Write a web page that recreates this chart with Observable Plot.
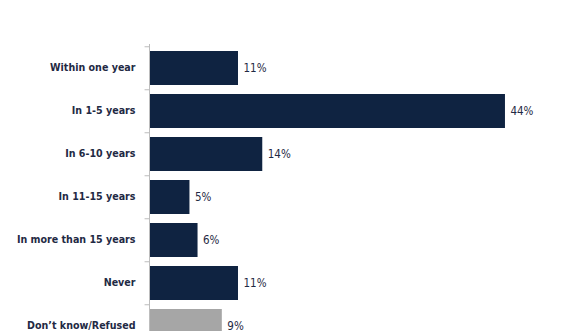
<!DOCTYPE html>
<html>
<head>
<meta charset="utf-8">
<script src="https://cdn.jsdelivr.net/npm/d3@7"></script>
<script src="https://cdn.jsdelivr.net/npm/@observablehq/plot@0.6"></script>
<style>
  html, body { margin: 0; padding: 0; background: #fff; overflow: hidden; }
</style>
</head>
<body>
<div id="chart"></div>
<script>
const categories = ["Within one year", "In 1-5 years", "In 6-10 years", "In 11-15 years", "In more than 15 years", "Never", "Don\u2019t know/Refused"];
const values = [11, 44, 14, 5, 6, 11, 9];
const groups = ["answer", "answer", "answer", "answer", "answer", "answer", "unsure"];

const data = categories.map((c, i) => ({category: c, value: values[i], group: groups[i]}));

const chart = Plot.plot({
  width: 582,
  height: 349,
  marginTop: 44,
  marginBottom: 0,
  marginLeft: 149,
  marginRight: 28.5,
  style: {fontFamily: "'DejaVu Sans Condensed', 'DejaVu Sans', sans-serif", background: "#fff"},
  x: {domain: [0, 50], axis: null},
  y: {domain: categories, axis: null, paddingInner: 0.22, paddingOuter: 0.11},
  color: {domain: ["answer", "unsure"], range: ["#0f2341", "#a6a6a6"]},
  marks: [
    Plot.barX(data, {x: "value", y: "category", fill: "group"}),
    Plot.ruleX([0], {stroke: "#bdbdbd", strokeWidth: 1}),
    Plot.ruleY(categories, {y: d => d, x1: -0.55, x2: 0, dy: -21.75, stroke: "#bdbdbd"}),
    Plot.text(data, {x: 0, y: "category", text: "category", textAnchor: "end", dx: -14, dy: -1, fontWeight: "bold", fontSize: 10.6, fill: "#1f2a44"}),
    Plot.text(data, {x: "value", y: "category", text: d => d.value + "%", textAnchor: "start", dx: 5, fontSize: 11.5, fill: "#1f2a44"})
  ]
});
document.getElementById("chart").appendChild(chart);
</script>
</body>
</html>
